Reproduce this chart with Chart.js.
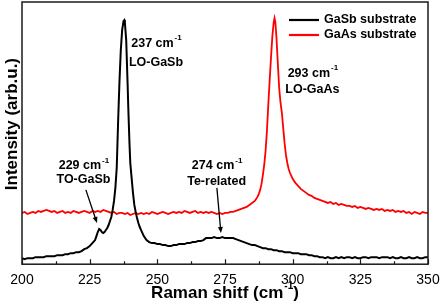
<!DOCTYPE html>
<html>
<head>
<meta charset="utf-8">
<script src="https://cdn.jsdelivr.net/npm/chart.js@4.4.1/dist/chart.umd.min.js"></script>
<style>
  html, body { margin: 0; padding: 0; background: #fff; overflow: hidden; }
  canvas { display: block; }
</style>
</head>
<body>
<canvas id="raman" width="442" height="304"></canvas>
<script>
// Raman spectra, intensity in arbitrary units
const seriesNames = ['GaSb substrate', 'GaAs substrate'];

const gasbShift = [
  200, 201, 202, 203, 204, 205, 206, 207, 208, 209,
  210, 211, 212, 213, 214, 215, 216, 217, 218, 219,
  220, 221, 222, 223, 224, 225, 226, 227, 227.5, 228,
  228.5, 229, 229.5, 230, 230.5, 231, 231.5, 232, 232.5, 233,
  233.5, 234, 234.5, 235, 235.5, 236, 236.5, 237, 237.5, 237.8,
  238, 238.5, 239, 239.3, 239.7, 240, 240.5, 241, 241.5, 242,
  242.5, 243, 243.5, 244, 244.5, 245, 246, 247, 248, 249,
  250, 251, 252, 253, 254, 255, 256, 257, 258, 259,
  260, 261, 262, 263, 264, 265, 266, 267, 268, 269,
  270, 271, 272, 273, 274, 275, 276, 277, 278, 279,
  280, 281, 282, 283, 284, 285, 286, 287, 288, 289,
  290, 291, 292, 293, 294, 295, 296, 297, 298, 299,
  300, 301, 302, 303, 304, 305, 306, 307, 308, 309,
  310, 311, 312, 313, 314, 315, 316, 317, 318, 319,
  320, 321, 322, 323, 324, 325, 326, 327, 328, 329,
  330, 331, 332, 333, 334, 335, 336, 337, 338, 339,
  340, 341, 342, 343, 344, 345, 346, 347, 348, 349,
  350
];
const gasbIntensity = [
  5, 4, 5, 5, 5, 6, 6, 6, 6, 7,
  7, 7, 7, 8, 8, 8, 9, 9, 10, 10,
  11, 11, 12, 14, 15, 17, 20, 23, 27, 31,
  34, 33, 31, 30, 31, 33, 35, 38, 42, 46,
  53, 62, 75, 95, 140, 180, 212, 232, 241, 242,
  240, 222, 180, 152, 120, 100, 85, 70, 58, 51,
  45, 40, 36, 33, 30, 27, 23, 21, 20, 20,
  19, 19, 18, 18, 17, 17, 18, 18, 19, 19,
  19, 20, 20, 21, 21, 22, 22, 23, 25, 25,
  25, 26, 25, 25, 26, 25, 25, 25, 25, 24,
  23, 22, 21, 20, 19, 18, 18, 17, 16, 15,
  15, 14, 14, 13, 13, 12, 12, 11, 11, 11,
  10, 10, 10, 9, 9, 9, 8, 8, 7, 7,
  6, 6, 5, 6, 5, 5, 6, 5, 6, 5,
  6, 6, 5, 6, 5, 5, 6, 6, 5, 6,
  6, 6, 5, 6, 6, 6, 5, 6, 5, 5,
  6, 5, 5, 6, 5, 5, 6, 5, 5, 6,
  6
];

const gaasShift = [
  200, 201, 202, 203, 204, 205, 206, 207, 208, 209,
  210, 211, 212, 213, 214, 215, 216, 217, 218, 219,
  220, 221, 222, 223, 224, 225, 226, 227, 228, 229,
  230, 231, 232, 233, 234, 235, 236, 237, 238, 239,
  240, 241, 242, 243, 244, 245, 246, 247, 248, 249,
  250, 251, 252, 253, 254, 255, 256, 257, 258, 259,
  260, 261, 262, 263, 264, 265, 266, 267, 268, 269,
  270, 271, 272, 273, 274, 275, 276, 277, 278, 279,
  280, 281, 282, 283, 284, 285, 286, 286.5, 287, 287.5,
  288, 288.5, 289, 289.5, 290, 290.5, 291, 291.5, 292, 292.5,
  293, 293.3, 293.6, 294, 294.5, 295, 295.5, 296, 296.5, 297,
  297.5, 298, 298.5, 299, 299.5, 300, 301, 302, 303, 304,
  305, 306, 307, 308, 309, 310, 311, 312, 313, 314,
  315, 316, 317, 318, 319, 320, 321, 322, 323, 324,
  325, 326, 327, 328, 329, 330, 331, 332, 333, 334,
  335, 336, 337, 338, 339, 340, 341, 342, 343, 344,
  345, 346, 347, 348, 349, 350
];
const gaasIntensity = [
  50, 51, 49, 50, 51, 50, 52, 51, 52, 53,
  52, 51, 52, 50, 51, 52, 50, 51, 50, 52,
  51, 50, 51, 52, 51, 50, 52, 51, 52, 51,
  53, 52, 51, 50, 51, 49, 50, 50, 49, 50,
  48, 49, 50, 49, 50, 49, 50, 49, 51, 50,
  49, 50, 51, 50, 49, 50, 51, 50, 51, 50,
  52, 51, 50, 51, 52, 50, 51, 50, 51, 50,
  51, 50, 49, 50, 49, 50, 50, 51, 51, 52,
  53, 54, 55, 56, 58, 60, 62, 64, 66, 69,
  73, 79, 88, 98, 112, 132, 158, 182, 205, 226,
  240, 244, 240, 225, 200, 175, 160, 150, 135, 120,
  108, 100, 94, 90, 87, 84, 80, 77, 74, 72,
  70, 68, 67, 65, 64, 63, 62, 61, 60, 61,
  59, 60, 58, 59, 58, 57, 57, 56, 57, 55,
  56, 55, 54, 55, 54, 53, 54, 53, 54, 52,
  53, 52, 53, 51, 52, 51, 52, 50, 51, 49,
  51, 50, 49, 51, 50, 50
];

const majorTicks = [200, 225, 250, 275, 300, 325, 350];
const minorTicks = [212.5, 237.5, 262.5, 287.5, 312.5, 337.5];

const peakValues = ['237 cm', '293 cm', '229 cm', '274 cm'];
const peakModes = ['LO-GaSb', 'LO-GaAs', 'TO-GaSb', 'Te-related'];

// label placement in data units: [centre shift, first line y, second line y]
const peakLabelPos = [[249.5, 219, 200], [307.3, 189, 173], [222.7, 97, 83], [271.9, 97, 81]];
// arrows: [fromX, fromY, toX, toY] in data units
const peakArrows = [[223.6, 73, 227.7, 40], [272.0, 75, 273.5, 30]];

const FONT = '"Liberation Sans", Arial, Helvetica, sans-serif';

function supText(ctx, main, sup, cx, cy, size, align) {
  ctx.font = `bold ${size}px ${FONT}`;
  const w1 = ctx.measureText(main).width;
  ctx.font = `bold ${Math.round(size * 0.6)}px ${FONT}`;
  const w2 = ctx.measureText(sup).width;
  let x0 = align === 'center' ? cx - (w1 + w2) / 2 : cx;
  ctx.textAlign = 'left';
  ctx.textBaseline = 'middle';
  ctx.font = `bold ${size}px ${FONT}`;
  ctx.fillText(main, x0, cy);
  ctx.font = `bold ${Math.round(size * 0.6)}px ${FONT}`;
  ctx.fillText(sup, x0 + w1 + 1, cy - size * 0.42);
  return x0 + w1 + w2 + 1;
}

const overlay = {
  id: 'overlay',
  afterDraw(chart) {
    const { ctx, chartArea: a } = chart;
    const xs = chart.scales.x, ys = chart.scales.y;
    ctx.save();

    // frame
    ctx.strokeStyle = '#1a1a1a';
    ctx.lineWidth = 1.5;
    ctx.strokeRect(a.left, a.top, a.right - a.left, a.bottom - a.top);

    // inward ticks on the bottom axis
    ctx.lineWidth = 1.2;
    ctx.beginPath();
    majorTicks.forEach(v => {
      const px = Math.round(xs.getPixelForValue(v)) + 0.5;
      ctx.moveTo(px, a.bottom); ctx.lineTo(px, a.bottom - 5);
    });
    minorTicks.forEach(v => {
      const px = Math.round(xs.getPixelForValue(v)) + 0.5;
      ctx.moveTo(px, a.bottom); ctx.lineTo(px, a.bottom - 3);
    });
    ctx.stroke();

    // peak labels
    ctx.fillStyle = '#000';
    peakValues.forEach((t, i) => {
      const [sx, y1, y2] = peakLabelPos[i];
      const cx = xs.getPixelForValue(sx);
      supText(ctx, t, '-1', cx, ys.getPixelForValue(y1), 12.5, 'center');
      ctx.font = `bold 12.5px ${FONT}`;
      ctx.textAlign = 'center';
      ctx.fillText(peakModes[i], cx, ys.getPixelForValue(y2));
    });

    // arrows
    ctx.strokeStyle = '#000';
    ctx.lineWidth = 1.3;
    peakArrows.forEach(([fx, fy, tx, ty]) => {
      const x1 = xs.getPixelForValue(fx), y1 = ys.getPixelForValue(fy);
      const x2 = xs.getPixelForValue(tx), y2 = ys.getPixelForValue(ty);
      const ang = Math.atan2(y2 - y1, x2 - x1);
      ctx.beginPath();
      ctx.moveTo(x1, y1); ctx.lineTo(x2 - 4 * Math.cos(ang), y2 - 4 * Math.sin(ang));
      ctx.stroke();
      ctx.beginPath();
      ctx.moveTo(x2, y2);
      ctx.lineTo(x2 - 6 * Math.cos(ang) + 2.5 * Math.sin(ang), y2 - 6 * Math.sin(ang) - 2.5 * Math.cos(ang));
      ctx.lineTo(x2 - 6 * Math.cos(ang) - 2.5 * Math.sin(ang), y2 - 6 * Math.sin(ang) + 2.5 * Math.cos(ang));
      ctx.closePath();
      ctx.fill();
    });

    // legend
    chart.data.datasets.forEach((ds, i) => {
      const ly = a.top + 18 + i * 15;
      ctx.strokeStyle = ds.borderColor;
      ctx.lineWidth = 2.2;
      ctx.beginPath();
      ctx.moveTo(289, ly); ctx.lineTo(319, ly);
      ctx.stroke();
      ctx.fillStyle = '#000';
      ctx.font = `bold 12.5px ${FONT}`;
      ctx.textAlign = 'left';
      ctx.textBaseline = 'middle';
      ctx.fillText(ds.label, 324, ly);
    });

    // axis titles
    ctx.fillStyle = '#000';
    ctx.font = `bold 17px ${FONT}`;
    const tx = 'Raman shitf (cm';
    const w1 = ctx.measureText(tx).width;
    ctx.font = `bold 10px ${FONT}`;
    const w2 = ctx.measureText('-1').width;
    ctx.font = `bold 17px ${FONT}`;
    const w3 = ctx.measureText(')').width;
    let x0 = (a.left + a.right) / 2 - (w1 + w2 + w3 + 1) / 2;
    const ty = a.bottom + 29;
    const xEnd = supText(ctx, tx, '-1', x0, ty, 17, 'left');
    ctx.font = `bold 17px ${FONT}`;
    ctx.fillText(')', xEnd, ty);

    ctx.translate(a.left - 10, (a.top + a.bottom) / 2 - 9);
    ctx.rotate(-Math.PI / 2);
    ctx.textAlign = 'center';
    ctx.textBaseline = 'middle';
    ctx.fillText('Intensity (arb.u.)', 0, 0);
    ctx.restore();
  }
};

new Chart(document.getElementById('raman'), {
  type: 'line',
  data: {
    datasets: [
      {
        label: seriesNames[0],
        data: gasbShift.map((s, i) => ({ x: s, y: gasbIntensity[i] })),
        borderColor: '#000000',
        borderWidth: 2,
        pointRadius: 0,
        tension: 0,
      },
      {
        label: seriesNames[1],
        data: gaasShift.map((s, i) => ({ x: s, y: gaasIntensity[i] })),
        borderColor: '#ff0000',
        borderWidth: 1.8,
        pointRadius: 0,
        tension: 0,
      },
    ],
  },
  options: {
    responsive: false,
    animation: false,
    layout: { padding: { left: 22, right: 14, top: 2, bottom: 7 } },
    plugins: { legend: { display: false }, tooltip: { enabled: false } },
    scales: {
      x: {
        type: 'linear',
        min: 200,
        max: 350,
        grid: { display: false, drawTicks: false },
        border: { display: false },
        ticks: { stepSize: 25, color: '#000', padding: 8, font: { family: FONT, size: 14 } },
        afterFit(scale) { scale.paddingLeft = 0; scale.paddingRight = 0; },
      },
      y: { display: false, min: -1, max: 260 },
    },
  },
  plugins: [overlay],
});
</script>
</body>
</html>
